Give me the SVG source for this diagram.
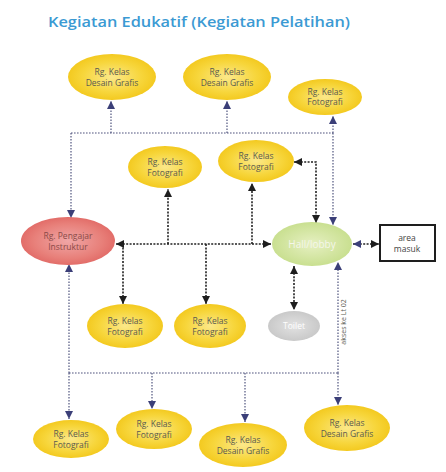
<svg xmlns="http://www.w3.org/2000/svg" width="446" height="472" viewBox="0 0 446 472">
  <defs>
    <radialGradient id="yellow" cx="50%" cy="50%" r="60%">
      <stop offset="0" stop-color="#fbe88a"/>
      <stop offset="0.55" stop-color="#f7d63c"/>
      <stop offset="1" stop-color="#f1c20f"/>
    </radialGradient>
    <radialGradient id="red" cx="50%" cy="50%" r="60%">
      <stop offset="0" stop-color="#f0a6a6"/>
      <stop offset="0.6" stop-color="#e8807a"/>
      <stop offset="1" stop-color="#de5f5c"/>
    </radialGradient>
    <radialGradient id="green" cx="50%" cy="50%" r="60%">
      <stop offset="0" stop-color="#e6f0c2"/>
      <stop offset="1" stop-color="#c3dc86"/>
    </radialGradient>
    <radialGradient id="grey" cx="50%" cy="50%" r="60%">
      <stop offset="0" stop-color="#e2e2e2"/>
      <stop offset="1" stop-color="#c4c4c4"/>
    </radialGradient>
    <marker id="ahBlack" markerUnits="userSpaceOnUse" markerWidth="9" markerHeight="9" refX="8" refY="4" orient="auto-start-reverse">
      <path d="M0,0 L8,4 L0,8 z" fill="#1e1e1e"/>
    </marker>
    <marker id="ahBlue" markerUnits="userSpaceOnUse" markerWidth="9" markerHeight="9" refX="8" refY="4" orient="auto-start-reverse">
      <path d="M0,0 L8,4 L0,8 z" fill="#3b3f78"/>
    </marker>
  </defs>
  <style>
    .title { font-family: "Open Sans", "Liberation Sans", sans-serif; font-size: 14px; font-weight: 600; fill: #3b9ad3; }
    .lbl { font-family: "Open Sans", "Liberation Sans", sans-serif; font-size: 8.5px; fill: #5a5a50; text-anchor: middle; }
    .yel { fill: url(#yellow); }
    .blk { fill: none; stroke: #222; stroke-width: 1.6; stroke-dasharray: 2 1.4; }
    .blu { fill: none; stroke: #50557f; stroke-width: 1.2; stroke-dasharray: 1.6 1.4; }
  </style>

  <rect width="446" height="472" fill="#ffffff"/>

  <text class="title" x="48" y="27" textLength="302" lengthAdjust="spacingAndGlyphs">Kegiatan Edukatif (Kegiatan Pelatihan)</text>

  <!-- connectors -->
  <g id="connectors">
    <!-- upper distribution (blue) -->
    <path class="blu" d="M71,133 H333"/>
    <path class="blu" d="M111,133 V101" marker-end="url(#ahBlue)"/>
    <path class="blu" d="M227,133 V101" marker-end="url(#ahBlue)"/>
    <path class="blu" d="M333,133 V116" marker-end="url(#ahBlue)"/>
    <path class="blu" d="M71,133 V218" marker-end="url(#ahBlue)"/>
    <path class="blu" d="M333,133 V225" marker-end="url(#ahBlue)"/>

    <!-- middle circulation (black) -->
    <path class="blk" d="M116,244 H271" marker-start="url(#ahBlack)" marker-end="url(#ahBlack)"/>
    <path class="blk" d="M168,244 V189" marker-end="url(#ahBlack)"/>
    <path class="blk" d="M252,244 V183" marker-end="url(#ahBlack)"/>
    <path class="blk" d="M123,244 V304" marker-end="url(#ahBlack)"/>
    <path class="blk" d="M206,244 V304" marker-end="url(#ahBlack)"/>
    <path class="blk" d="M294,162 H316 V223" marker-start="url(#ahBlack)" marker-end="url(#ahBlack)"/>
    <path class="blk" d="M294,266 V310" marker-start="url(#ahBlack)" marker-end="url(#ahBlack)"/>
    <path class="blk" d="M353,244 H379" marker-start="url(#ahBlue)" marker-end="url(#ahBlack)"/>

    <!-- lower distribution (blue) -->
    <path class="blu" d="M69,373 H338"/>
    <path class="blu" d="M69,373 V264" marker-end="url(#ahBlue)"/>
    <path class="blu" d="M338,373 V262" marker-end="url(#ahBlue)"/>
    <path class="blu" d="M69,373 V419" marker-end="url(#ahBlue)"/>
    <path class="blu" d="M152,373 V409" marker-end="url(#ahBlue)"/>
    <path class="blu" d="M245,373 V422" marker-end="url(#ahBlue)"/>
    <path class="blu" d="M338,373 V405" marker-end="url(#ahBlue)"/>
    <text class="lbl" transform="translate(346,322) rotate(-90)" style="font-size:7px">akses ke Lt 02</text>
  </g>

  <!-- rooms -->
  <g id="dg-top-1">
    <ellipse class="yel" cx="112" cy="77" rx="44" ry="23"/>
    <text class="lbl" x="112" y="75">Rg.  Kelas</text>
    <text class="lbl" x="112" y="86">Desain Grafis</text>
  </g>
  <g id="dg-top-2">
    <ellipse class="yel" cx="227" cy="77" rx="44" ry="23"/>
    <text class="lbl" x="227" y="75">Rg.  Kelas</text>
    <text class="lbl" x="227" y="86">Desain Grafis</text>
  </g>
  <g id="foto-top">
    <ellipse class="yel" cx="325" cy="97" rx="37" ry="18"/>
    <text class="lbl" x="325" y="95">Rg. Kelas</text>
    <text class="lbl" x="325" y="105">Fotografi</text>
  </g>
  <g id="foto-mid-1">
    <ellipse class="yel" cx="165" cy="167" rx="37" ry="21"/>
    <text class="lbl" x="165" y="165">Rg. Kelas</text>
    <text class="lbl" x="165" y="176">Fotografi</text>
  </g>
  <g id="foto-mid-2">
    <ellipse class="yel" cx="256" cy="161" rx="38" ry="21"/>
    <text class="lbl" x="256" y="159">Rg. Kelas</text>
    <text class="lbl" x="256" y="170">Fotografi</text>
  </g>
  <g id="pengajar">
    <ellipse cx="68" cy="241" rx="47" ry="24" fill="url(#red)"/>
    <text class="lbl" x="68" y="239" style="fill:#8a4a48">Rg. Pengajar</text>
    <text class="lbl" x="68" y="250" style="fill:#8a4a48">Instruktur</text>
  </g>
  <g id="hall">
    <ellipse cx="312" cy="244" rx="40" ry="22" fill="url(#green)"/>
    <text class="lbl" x="312" y="248" style="font-size:10px;fill:#f4f6ea">Hall/lobby</text>
  </g>
  <g id="area-masuk">
    <rect x="380" y="225" width="55" height="36" fill="#ffffff" stroke="#1e1e1e" stroke-width="2"/>
    <text class="lbl" x="407" y="241" style="fill:#444">area</text>
    <text class="lbl" x="407" y="252" style="fill:#444">masuk</text>
  </g>
  <g id="foto-low-1">
    <ellipse class="yel" cx="125" cy="326" rx="38" ry="22"/>
    <text class="lbl" x="125" y="324">Rg. Kelas</text>
    <text class="lbl" x="125" y="335">Fotografi</text>
  </g>
  <g id="foto-low-2">
    <ellipse class="yel" cx="210" cy="326" rx="36" ry="22"/>
    <text class="lbl" x="210" y="324">Rg. Kelas</text>
    <text class="lbl" x="210" y="335">Fotografi</text>
  </g>
  <g id="toilet">
    <ellipse cx="294" cy="326" rx="26" ry="15" fill="url(#grey)"/>
    <text class="lbl" x="294" y="329" style="fill:#ffffff">Toilet</text>
  </g>
  <g id="foto-bot-1">
    <ellipse class="yel" cx="71" cy="439" rx="38" ry="19"/>
    <text class="lbl" x="71" y="437">Rg. Kelas</text>
    <text class="lbl" x="71" y="448">Fotografi</text>
  </g>
  <g id="foto-bot-2">
    <ellipse class="yel" cx="154" cy="429" rx="38" ry="20"/>
    <text class="lbl" x="154" y="427">Rg. Kelas</text>
    <text class="lbl" x="154" y="438">Fotografi</text>
  </g>
  <g id="dg-bot-1">
    <ellipse class="yel" cx="243" cy="445" rx="44" ry="22"/>
    <text class="lbl" x="243" y="443">Rg.  Kelas</text>
    <text class="lbl" x="243" y="454">Desain Grafis</text>
  </g>
  <g id="dg-bot-2">
    <ellipse class="yel" cx="347" cy="428" rx="43" ry="23"/>
    <text class="lbl" x="347" y="426">Rg.  Kelas</text>
    <text class="lbl" x="347" y="437">Desain Grafis</text>
  </g>
</svg>
